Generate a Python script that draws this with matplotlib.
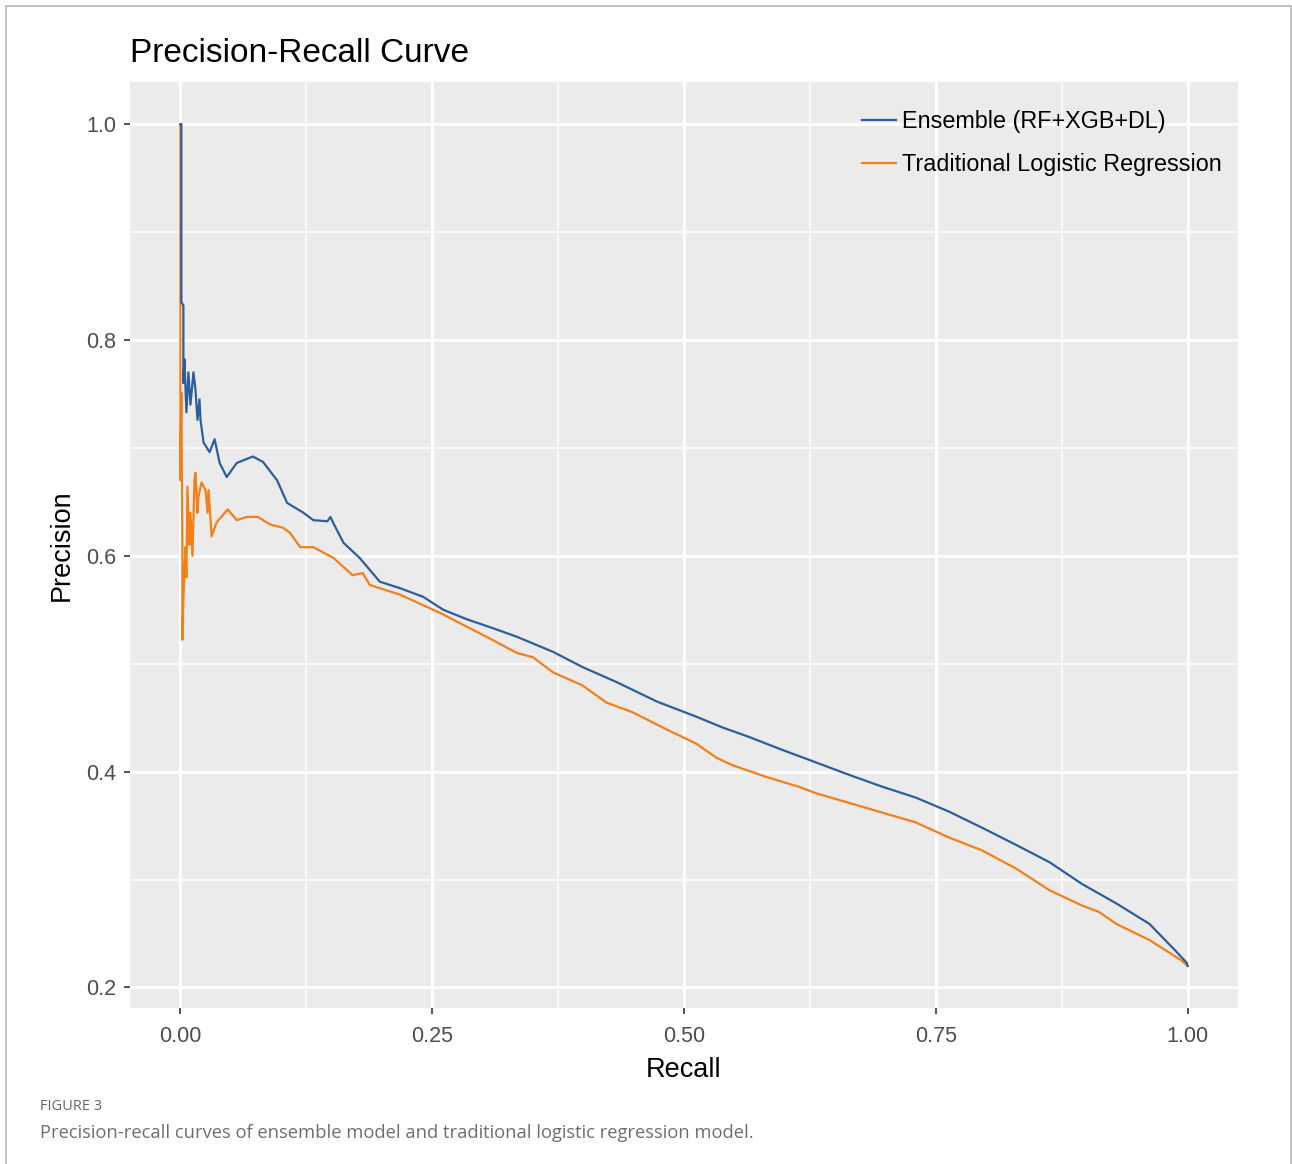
import matplotlib
matplotlib.use("Agg")
import matplotlib.pyplot as plt
from matplotlib.patches import Rectangle
from matplotlib.ticker import FixedLocator

# ---- data ----
ens_recall = [0.000, 0.001, 0.001, 0.003, 0.003, 0.004, 0.006, 0.008, 0.010, 0.013,
              0.015, 0.017, 0.019, 0.020, 0.023, 0.029, 0.034, 0.039, 0.046, 0.056,
              0.072, 0.082, 0.096, 0.106, 0.122, 0.132, 0.146, 0.149, 0.152, 0.162,
              0.178, 0.198, 0.218, 0.241, 0.261, 0.285, 0.310, 0.334, 0.370, 0.399,
              0.433, 0.473, 0.512, 0.538, 0.565, 0.598, 0.624, 0.664, 0.697, 0.730,
              0.763, 0.796, 0.830, 0.863, 0.895, 0.929, 0.962, 0.988, 0.999, 1.000]
ens_precision = [1.000, 1.000, 0.835, 0.832, 0.760, 0.782, 0.733, 0.770, 0.740, 0.770,
                 0.754, 0.726, 0.745, 0.726, 0.705, 0.696, 0.708, 0.686, 0.673, 0.686,
                 0.692, 0.687, 0.670, 0.649, 0.640, 0.633, 0.632, 0.636, 0.630, 0.612,
                 0.598, 0.576, 0.570, 0.562, 0.550, 0.541, 0.533, 0.525, 0.511, 0.497,
                 0.483, 0.465, 0.451, 0.441, 0.432, 0.420, 0.411, 0.397, 0.386, 0.376,
                 0.363, 0.348, 0.332, 0.316, 0.296, 0.278, 0.259, 0.234, 0.223, 0.220]

lr_recall = [0.000, 0.000, 0.001, 0.002, 0.002, 0.003, 0.005, 0.006, 0.007, 0.009,
             0.010, 0.012, 0.014, 0.015, 0.017, 0.018, 0.021, 0.025, 0.027, 0.028,
             0.031, 0.036, 0.047, 0.056, 0.066, 0.077, 0.089, 0.102, 0.109, 0.119,
             0.132, 0.146, 0.152, 0.171, 0.181, 0.188, 0.218, 0.258, 0.285, 0.310,
             0.334, 0.350, 0.370, 0.399, 0.423, 0.449, 0.483, 0.512, 0.532, 0.548,
             0.582, 0.614, 0.631, 0.664, 0.697, 0.730, 0.763, 0.796, 0.830, 0.863,
             0.895, 0.912, 0.929, 0.962, 0.994, 1.000]
lr_precision = [1.000, 0.670, 0.751, 0.600, 0.522, 0.560, 0.608, 0.580, 0.664, 0.610,
                0.640, 0.600, 0.670, 0.677, 0.640, 0.655, 0.668, 0.661, 0.640, 0.661,
                0.618, 0.631, 0.643, 0.633, 0.636, 0.636, 0.629, 0.626, 0.621, 0.608,
                0.608, 0.601, 0.598, 0.582, 0.584, 0.573, 0.564, 0.547, 0.534, 0.522,
                0.510, 0.506, 0.492, 0.480, 0.464, 0.455, 0.439, 0.426, 0.413, 0.406,
                0.395, 0.386, 0.380, 0.371, 0.362, 0.353, 0.339, 0.327, 0.310, 0.290,
                0.276, 0.270, 0.259, 0.244, 0.225, 0.220]

series_labels = ["Ensemble (RF+XGB+DL)", "Traditional Logistic Regression"]
x_ticks = [0.00, 0.25, 0.50, 0.75, 1.00]
x_ticklabels = ["0.00", "0.25", "0.50", "0.75", "1.00"]
y_ticks = [0.2, 0.4, 0.6, 0.8, 1.0]
y_ticklabels = ["0.2", "0.4", "0.6", "0.8", "1.0"]

plt.rcParams['font.family'] = ['Liberation Sans', 'DejaVu Sans']

W, H = 1292, 1164
fig = plt.figure(figsize=(W / 100, H / 100), dpi=100)
fig.patch.set_facecolor("white")

ax = fig.add_axes([130 / W, 1 - 1008 / H, (1238 - 130) / W, (1008 - 82) / H])
ax.set_facecolor("#EBEBEB")
for s in ax.spines.values():
    s.set_visible(False)

ax.set_xlim(-0.05, 1.05)
ax.set_ylim(0.181, 1.039)

ax.set_xticks(x_ticks)
ax.set_xticklabels(x_ticklabels)
ax.set_yticks(y_ticks)
ax.set_yticklabels(y_ticklabels)
ax.xaxis.set_minor_locator(FixedLocator([0.125, 0.375, 0.625, 0.875]))
ax.yaxis.set_minor_locator(FixedLocator([0.3, 0.5, 0.7, 0.9]))
ax.grid(which="major", color="white", linewidth=2.2)
ax.grid(which="minor", color="white", linewidth=1.1)
ax.set_axisbelow(True)
ax.tick_params(which="major", length=4, width=1.2, color="#333333",
               labelsize=15.5, labelcolor="#4D4D4D", pad=6)
ax.tick_params(axis="x", which="major", pad=9)
ax.tick_params(which="minor", length=0)

c_blue = "#2D5E9C"
c_orange = "#F47F17"
ax.plot(ens_recall, ens_precision, color=c_blue, lw=1.6, label=series_labels[0],
        zorder=3)
ax.plot(lr_recall, lr_precision, color=c_orange, lw=1.6, label=series_labels[1],
        zorder=2)

ax.set_xlabel("Recall", fontsize=19.5, color="black", labelpad=7)
ax.set_ylabel("Precision", fontsize=19.5, color="black", labelpad=8)

leg = ax.legend(loc="upper right", bbox_to_anchor=(1.0, 0.987), frameon=False,
                fontsize=16.8, handlelength=1.45, handletextpad=0.25,
                labelspacing=0.85, borderaxespad=0.3)

fig.text(130 / W, 1 - 53 / H, "Precision-Recall Curve", fontsize=24,
         color="black", ha="left", va="center")

# caption
fig.text(40 / W, 1 - 1107 / H, "FIGURE 3", fontsize=10.5, color="#666666",
         family=["Open Sans", "DejaVu Sans"], ha="left", va="center")
fig.text(40 / W, 1 - 1133 / H,
         "Precision-recall curves of ensemble model and traditional logistic regression model.",
         fontsize=13.2, color="#6E6E6E", family=["Open Sans", "DejaVu Sans"],
         ha="left", va="center")

# outer border
fig.patches.append(Rectangle((6 / W, -0.02), (1291 - 6) / W, 1 - 6 / H + 0.02,
                             transform=fig.transFigure, fill=False,
                             edgecolor="#B5B5B5", linewidth=1.2))

fig.savefig("out.png", dpi=100, facecolor="white")
